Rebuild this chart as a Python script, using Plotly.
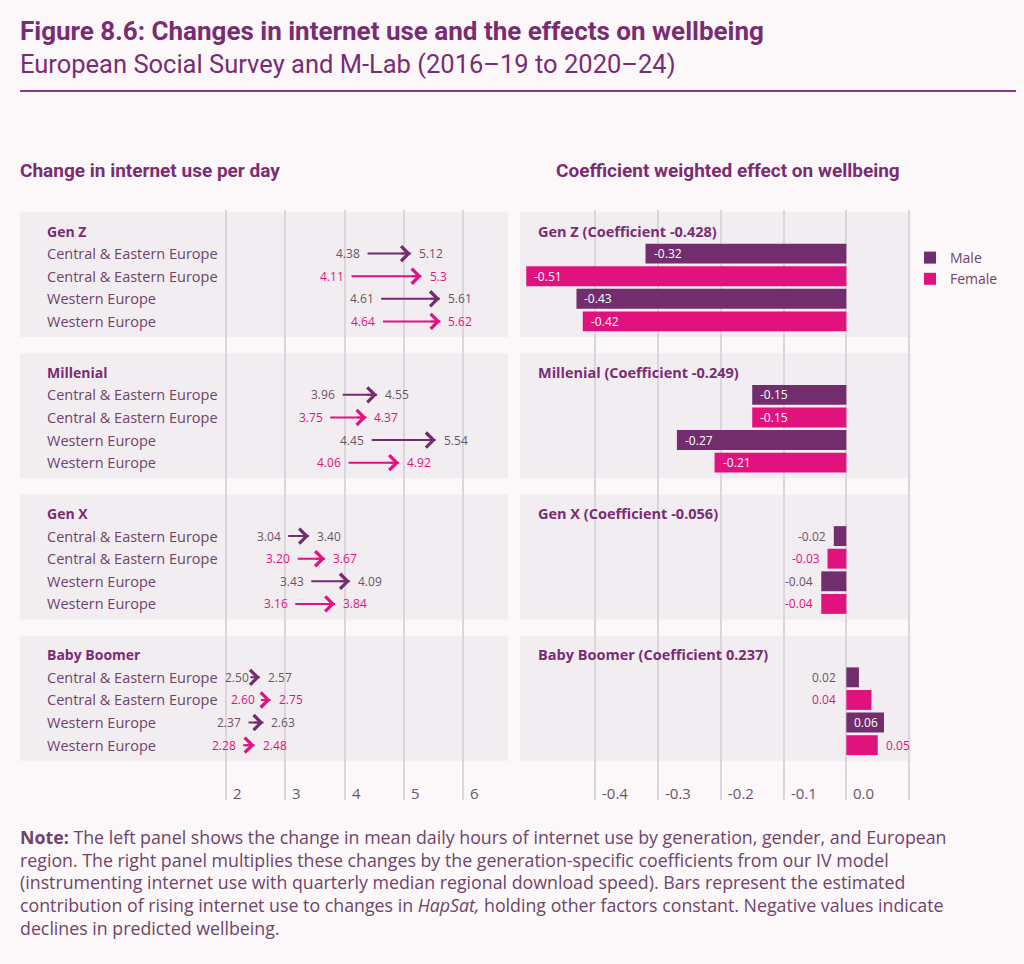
import plotly.graph_objects as go

# ---- data ----
groups = ["Gen Z", "Millenial", "Gen X", "Baby Boomer"]
coefficients = ["-0.428", "-0.249", "-0.056", "0.237"]
regions = ["Central & Eastern Europe", "Central & Eastern Europe", "Western Europe", "Western Europe"]
sexes = ["Male", "Female", "Male", "Female"]

# mean daily hours of internet use, 2016-19 -> 2020-24
use_before = [[4.38, 4.11, 4.61, 4.64],
              [3.96, 3.75, 4.45, 4.06],
              [3.04, 3.20, 3.43, 3.16],
              [2.50, 2.60, 2.37, 2.28]]
use_after = [[5.12, 5.3, 5.61, 5.62],
             [4.55, 4.37, 5.54, 4.92],
             [3.40, 3.67, 4.09, 3.84],
             [2.57, 2.75, 2.63, 2.48]]
use_fmt = ["{:g}", "{:.2f}", "{:.2f}", "{:.2f}"]

# coefficient weighted effect on wellbeing
effect = [[-0.32, -0.51, -0.43, -0.42],
          [-0.15, -0.15, -0.27, -0.21],
          [-0.02, -0.03, -0.04, -0.04],
          [0.02, 0.04, 0.06, 0.05]]
# where the bar label sits: inside the bar, past its tip, or left of zero
effect_label_pos = [["in", "in", "in", "in"],
                    ["in", "in", "in", "in"],
                    ["tip", "tip", "tip", "tip"],
                    ["base", "base", "in", "tip"]]

left_ticks = [2, 3, 4, 5, 6]
right_ticks = [-0.4, -0.3, -0.2, -0.1, 0.0]
right_grid = right_ticks + [0.1]

note_lines = [
    "<b>Note:</b> The left panel shows the change in mean daily hours of internet use by generation, gender, and European",
    "region. The right panel multiplies these changes by the generation-specific coefficients from our IV model",
    "(instrumenting internet use with quarterly median regional download speed). Bars represent the estimated",
    "contribution of rising internet use to changes in <i>HapSat,</i> holding other factors constant. Negative values indicate",
    "declines in predicted wellbeing.",
]

# ---- styles ----
BG = "#fcf8fa"
PANEL = "#f2edf1"
GRID = "#dcd5db"
TITLE = "#7a2c72"
TEXT = "#6e4468"
VALUE = {"Male": "#6a5566", "Female": "#e0127e"}
COLOR = {"Male": "#722d6c", "Female": "#e0127e"}
FONT = "Open Sans"
NARROW = "Roboto"

W, H = 1024, 964
GROUP_STEP = 6.25


def px(x):
    return x / W


def py(y):
    return 1 - y / H


def row_y(g, r):
    return g * GROUP_STEP + r + 1


fig = go.Figure()

# bars (right panel)
for sex in ["Male", "Female"]:
    xs, ys = [], []
    for g in range(len(groups)):
        for r in range(4):
            if sexes[r] == sex:
                xs.append(effect[g][r])
                ys.append(row_y(g, r))
    fig.add_trace(go.Bar(x=xs, y=ys, orientation="h", name=sex, xaxis="x2", yaxis="y",
                         marker=dict(color=COLOR[sex], line=dict(width=0)), width=0.88,
                         hoverinfo="skip"))

# invisible anchor points for the left panel
fig.add_trace(go.Scatter(x=[v for row in use_before for v in row] + [v for row in use_after for v in row],
                         y=[row_y(g, r) for g in range(4) for r in range(4)] * 2,
                         mode="markers", marker=dict(opacity=0), showlegend=False,
                         hoverinfo="skip", xaxis="x", yaxis="y"))

ann = []
shapes = []

for g, name in enumerate(groups):
    top = g * GROUP_STEP - 0.84
    bot = g * GROUP_STEP + 4.69
    for xr in ["x domain", "x2 domain"]:
        shapes.append(dict(type="rect", xref=xr, yref="y", x0=0, x1=1, y0=top, y1=bot,
                           fillcolor=PANEL, line=dict(width=0), layer="below"))
    ann.append(dict(text="<b>%s</b>" % name, xref="x domain", yref="y", x=25 / 488, y=g * GROUP_STEP,
                    xanchor="left", yanchor="middle", showarrow=False,
                    font=dict(family=FONT, size=14, color=TITLE)))
    ann.append(dict(text="<b>%s (Coefficient %s)</b>" % (name, coefficients[g]), xref="x2 domain", yref="y",
                    x=16 / 391, y=g * GROUP_STEP, xanchor="left", yanchor="middle", showarrow=False,
                    font=dict(family=FONT, size=14.5, color=TITLE)))
    for r in range(4):
        y = row_y(g, r)
        sex = sexes[r]
        ann.append(dict(text=regions[r], xref="x domain", yref="y", x=25 / 488, y=y,
                        xanchor="left", yanchor="middle", showarrow=False,
                        font=dict(family=FONT, size=14.5, color=TEXT)))
        b, a = use_before[g][r], use_after[g][r]
        # arrow shaft from the earlier to the later value
        ann.append(dict(text="", x=a, y=y, ax=b, ay=y, xref="x", yref="y", axref="x", ayref="y",
                        showarrow=True, arrowhead=0, arrowwidth=2,
                        arrowcolor=COLOR[sex], font=dict(size=1), borderpad=0))
        # chevron head at the later value (drawn separately so short arrows keep it)
        ann.append(dict(text="", x=a, y=y, ax=-10, ay=0, xref="x", yref="y",
                        showarrow=True, arrowhead=4, arrowsize=1.45, arrowwidth=2,
                        arrowcolor=COLOR[sex], font=dict(size=1), borderpad=0))
        ann.append(dict(text=use_fmt[g].format(b), x=b, y=y, xref="x", yref="y", xanchor="right",
                        xshift=-5, showarrow=False, font=dict(family=FONT, size=12, color=VALUE[sex])))
        ann.append(dict(text=use_fmt[g].format(a), x=a, y=y, xref="x", yref="y", xanchor="left",
                        xshift=6, showarrow=False, font=dict(family=FONT, size=12, color=VALUE[sex])))
        v = effect[g][r]
        pos = effect_label_pos[g][r]
        label = "%.2f" % v
        if pos == "in":
            ann.append(dict(text=label, x=min(v, 0), y=y, xref="x2", yref="y", xanchor="left", xshift=6,
                            showarrow=False, font=dict(family=FONT, size=12, color="white")))
        elif pos == "tip":
            ann.append(dict(text=label, x=v, y=y, xref="x2", yref="y",
                            xanchor="right" if v < 0 else "left", xshift=-6 if v < 0 else 6,
                            showarrow=False, font=dict(family=FONT, size=12, color=VALUE[sex])))
        else:
            ann.append(dict(text=label, x=0, y=y, xref="x2", yref="y", xanchor="right", xshift=-8,
                            showarrow=False, font=dict(family=FONT, size=12, color=VALUE[sex])))

# tick labels sit just right of each gridline
for t in left_ticks:
    ann.append(dict(text=str(t), x=t, xref="x", yref="paper", y=py(793), xanchor="left", xshift=5,
                    yanchor="middle", showarrow=False, font=dict(family=FONT, size=15, color="#6a5566")))
for t in right_ticks:
    ann.append(dict(text="%.1f" % t, x=t, xref="x2", yref="paper", y=py(793), xanchor="left", xshift=5,
                    yanchor="middle", showarrow=False, font=dict(family=FONT, size=15, color="#6a5566")))

# titles and note
ann.append(dict(text="<b>Figure 8.6: Changes in internet use and the effects on wellbeing</b>",
                xref="paper", yref="paper", x=px(18), y=py(31), xanchor="left", yanchor="middle",
                showarrow=False, font=dict(family=NARROW, size=26, color=TITLE)))
ann.append(dict(text="European Social Survey and M-Lab (2016–19 to 2020–24)",
                xref="paper", yref="paper", x=px(18), y=py(64), xanchor="left", yanchor="middle",
                showarrow=False, font=dict(family=NARROW, size=25.5, color=TITLE)))
ann.append(dict(text="<b>Change in internet use per day</b>",
                xref="paper", yref="paper", x=px(18), y=py(170), xanchor="left", yanchor="middle",
                showarrow=False, font=dict(family=NARROW, size=19, color=TITLE)))
ann.append(dict(text="<b>Coefficient weighted effect on wellbeing</b>",
                xref="paper", yref="paper", x=px(554), y=py(170), xanchor="left", yanchor="middle",
                showarrow=False, font=dict(family=NARROW, size=19, color=TITLE)))
for i, line in enumerate(note_lines):
    ann.append(dict(text=line, xref="paper", yref="paper", x=px(18), y=py(837 + i * 22.7),
                    xanchor="left", yanchor="middle", align="left", showarrow=False,
                    font=dict(family=FONT, size=17.8, color=TEXT)))

shapes.append(dict(type="line", xref="paper", yref="paper", x0=px(20), x1=px(1016), y0=py(91), y1=py(91),
                   line=dict(color="#8a3a82", width=2)))

fig.update_layout(
    width=W, height=H,
    margin=dict(l=0, r=0, t=0, b=0),
    paper_bgcolor=BG, plot_bgcolor="rgba(0,0,0,0)",
    barmode="overlay",
    xaxis=dict(domain=[px(20), px(508)], range=[-1.48, 6.76], tickvals=left_ticks, showticklabels=False,
               showgrid=True, gridcolor=GRID, gridwidth=1.5, zeroline=False, fixedrange=True),
    xaxis2=dict(domain=[px(520), px(911)], range=[-0.52, 0.103], tickvals=right_grid, showticklabels=False,
                showgrid=True, gridcolor=GRID, gridwidth=1.5, zeroline=False, anchor="y", fixedrange=True),
    yaxis=dict(domain=[py(800), py(210)], range=[(800 - 231) / 22.6, (210 - 231) / 22.6], visible=False,
               fixedrange=True),
    legend=dict(x=px(910), y=py(242), xanchor="left", yanchor="top", bgcolor="rgba(0,0,0,0)",
                font=dict(family=FONT, size=14, color=TEXT), tracegroupgap=0),
    annotations=ann, shapes=shapes,
    showlegend=True,
)

fig.write_html("out.html", config={"displayModeBar": False},
               post_script="document.body.style.margin='0';document.body.style.background='%s';" % BG)
